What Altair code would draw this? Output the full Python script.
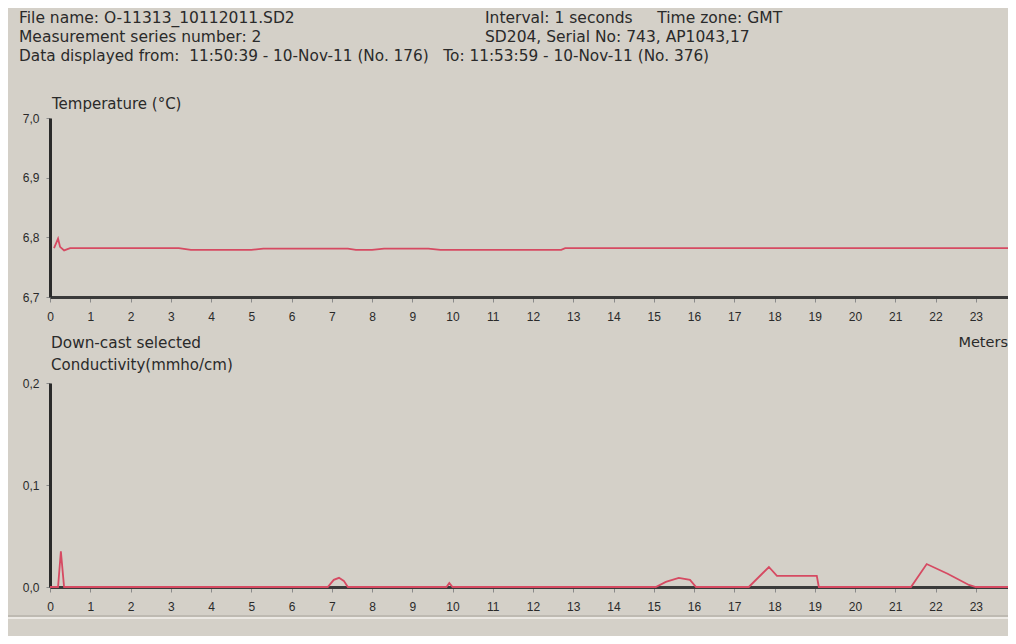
import altair as alt
import pandas as pd

# ---- data ----
temp_depth = [0.1, 0.2, 0.25, 0.35, 0.5, 3.2, 3.5, 5.0, 5.3, 7.4, 7.6, 8.0, 8.3, 9.4, 9.7, 12.7, 12.8, 23.8]
temp_val = [6.782, 6.798, 6.784, 6.778, 6.782, 6.782, 6.779, 6.779, 6.781, 6.781, 6.779, 6.779, 6.781,
            6.781, 6.779, 6.779, 6.782, 6.782]

cond_depth = [0.0, 0.2, 0.27, 0.35, 6.9, 7.05, 7.18, 7.3, 7.4, 9.85, 9.92, 10.0, 15.05, 15.3, 15.62, 15.9, 16.05,
              17.36, 17.86, 18.06, 19.05, 19.1, 21.39, 21.78, 22.3, 22.83, 23.0, 23.8]
cond_val = [0.0, 0.0, 0.035, 0.0, 0.0, 0.007, 0.009, 0.006, 0.0, 0.0, 0.004, 0.0, 0.0, 0.005, 0.009, 0.007, 0.0,
            0.0, 0.0196, 0.011, 0.011, 0.0, 0.0, 0.0225, 0.013, 0.002, 0.0, 0.0]

x_ticks = list(range(24))
temp_ticks = [6.7, 6.8, 6.9, 7.0]
cond_ticks = [0.0, 0.1, 0.2]

NB = "\u00a0"
header_left = [
    "File name: O-11313_10112011.SD2",
    "Measurement series number: 2",
    "Data displayed from:" + NB * 2 + "11:50:39 - 10-Nov-11 (No. 176)" + NB * 3 + "To: 11:53:59 - 10-Nov-11 (No. 376)",
]
header_right = [
    "Interval: 1 seconds" + NB * 5 + "Time zone: GMT",
    "SD204, Serial No: 743, AP1043,17",
]

temp_df = pd.DataFrame({"depth": temp_depth, "temp": temp_val})
cond_df = pd.DataFrame({"depth": cond_depth, "cond": cond_val})
one = pd.DataFrame({"k": [0]})

FONT = "Liberation Sans"
TFONT = "DejaVu Sans"
TXT = "#2a2a2a"
LINE = "#d64a62"
W, H = 958, 579

label_expr = "replace(format(datum.value, '.1f'), '.', ',')"


def xaxis(offset):
    return alt.Axis(values=x_ticks, orient="bottom", offset=offset, title=None, grid=False,
                    domainColor="#3a3a3a", domainWidth=3, tickColor="#8a8a8a", tickSize=5,
                    labelPadding=9, labelFont=FONT, labelFontSize=12, labelColor=TXT, labelFlush=False)


def yaxis(vals):
    return alt.Axis(values=vals, orient="left", title=None, grid=False, labelExpr=label_expr,
                    domainColor="#2a2a2a", domainWidth=3, tickColor="#8a8a8a", tickSize=4,
                    labelPadding=7, labelFont=FONT, labelFontSize=12, labelColor=TXT)


temp_line = alt.Chart(temp_df).mark_line(color=LINE, strokeWidth=1.8).encode(
    x=alt.X("depth:Q", scale=alt.Scale(domain=[0, 23.8], range=[0, W], nice=False, zero=False),
            axis=xaxis(289 - H)),
    y=alt.Y("temp:Q", scale=alt.Scale(domain=[6.7, 7.0], range=[289, 110], nice=False, zero=False),
            axis=yaxis(temp_ticks)),
)

cond_line = alt.Chart(cond_df).mark_line(color=LINE, strokeWidth=1.8).encode(
    x=alt.X("depth:Q", scale=alt.Scale(domain=[0, 23.8], range=[0, W], nice=False, zero=False),
            axis=xaxis(0)),
    y=alt.Y("cond:Q", scale=alt.Scale(domain=[0.0, 0.2], range=[579, 375], nice=False, zero=False),
            axis=yaxis(cond_ticks)),
)


def label(text, px, py, align="left", size=15):
    return alt.Chart(one).mark_text(align=align, baseline="middle", font=TFONT, fontSize=size,
                                    color=TXT).encode(
        x=alt.value(px - 50), y=alt.value(py - 8), text=alt.value(text))


texts = [
    label(header_left[0], 19, 18, size=15.5),
    label(header_left[1], 19, 37, size=15.5),
    label(header_left[2], 19, 56, size=15.3),
    label(header_right[0], 485, 18, size=15.5),
    label(header_right[1], 485, 37, size=15.5),
    label("Temperature (°C)", 52, 104),
    label("Down-cast selected", 51, 343, size=15.3),
    label("Meters", 1008, 343, align="right", size=14.5),
    label("Conductivity(mmho/cm)", 51, 365),
]

sep_dark = alt.Chart(one).mark_rule(color="#a8a49c", strokeWidth=1).encode(
    x=alt.value(-50), x2=alt.value(W + 8), y=alt.value(608))
sep_light = alt.Chart(one).mark_rule(color="#f4f2ee", strokeWidth=1.5).encode(
    x=alt.value(-50), x2=alt.value(W + 8), y=alt.value(610))

chart = alt.layer(temp_line, cond_line, sep_dark, sep_light, *texts).resolve_scale(
    x="independent", y="independent"
).resolve_axis(x="independent", y="independent").properties(
    width=W, height=H, autosize="none",
    padding={"left": 42, "top": 0, "right": 0, "bottom": 49},
    background="#d4d0c8",
).configure_view(stroke=None)

chart.save("out.html", embed_options={"renderer": "svg", "actions": False})
